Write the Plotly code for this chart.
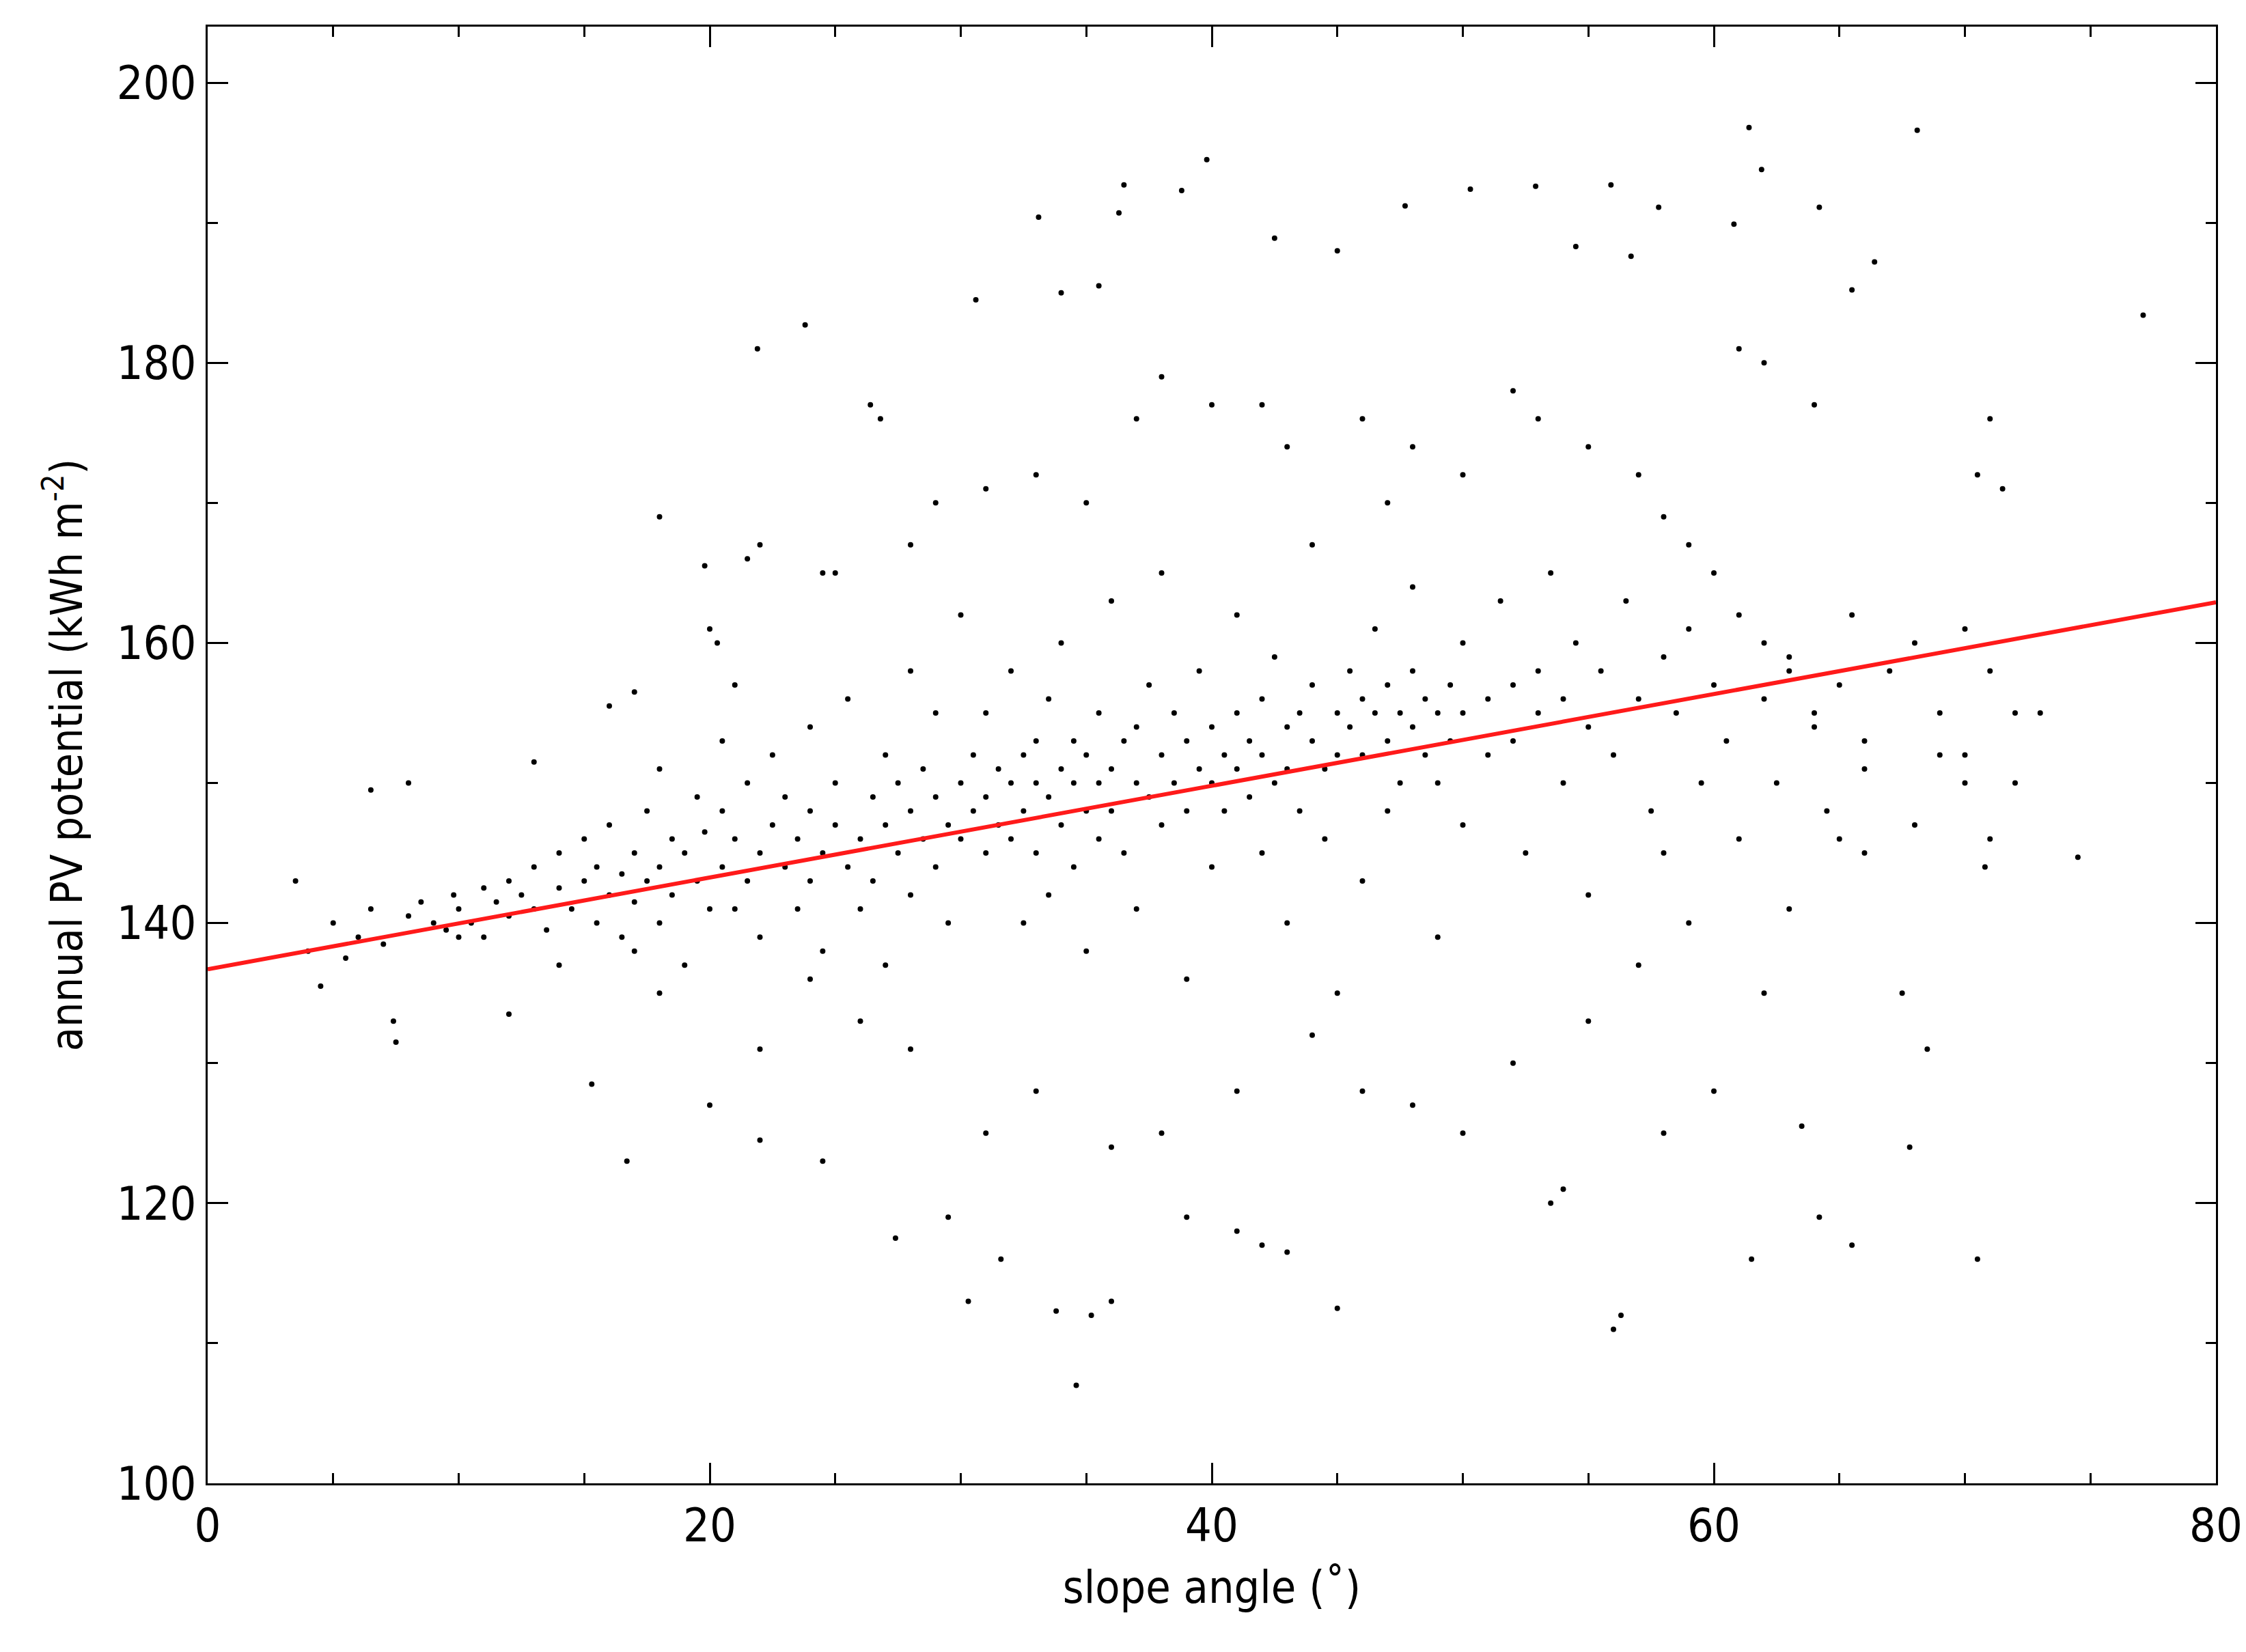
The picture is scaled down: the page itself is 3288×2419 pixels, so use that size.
import plotly.graph_objects as go

# points, grouped by slope band (slope deg, PV kWh m-2)
band_0_20 = [(4,138),(5,140),(5.5,137.5),(6,139),(6.5,141),(7,138.5),(8,140.5),(8.5,141.5),(9,140),(9.5,139.5),
             (9.8,142),(10,141),(10.5,140),(11,142.5),(11,139),(11.5,141.5),(12,143),(12,140.5),(12.5,142),(13,144),
             (13,141),(13.5,139.5),(14,142.5),(14,145),(14.5,141),(15,143),(15,146),(15.5,140),(15.5,144),(16,142),
             (16,147),(16.5,143.5),(16.5,139),(17,145),(17,141.5),(17.5,148),(17.5,143),(18,144),(18,140),(18,151),
             (18.5,146),(18.5,142),(19,145),(19,137),(19.5,149),(19.5,143),(19.8,146.5),(20,141)]
band_20_30 = [(20.5,144),(20.5,148),(21,146),(21,141),(21.5,150),(21.5,143),(22,145),(22,139),(22.5,147),(22.5,152),
              (23,144),(23,149),(23.5,146),(23.5,141),(24,148),(24,143),(24,154),(24.5,145),(24.5,138),(25,147),
              (25,150),(25.5,144),(25.5,156),(26,146),(26,141),(26.5,149),(26.5,143),(27,147),(27,152),(27,137),
              (27.5,145),(27.5,150),(28,148),(28,142),(28,158),(28.5,146),(28.5,151),(29,149),(29,144),(29,155),
              (29.5,147),(29.5,140),(30,150),(30,146),(30,162)]
band_30_45 = [(30.5,148),(30.5,152),(31,149),(31,145),(31,155),(31.5,151),(31.5,147),(32,150),(32,146),(32,158),
              (32.5,152),(32.5,148),(32.5,140),(33,150),(33,153),(33,145),(33.5,149),(33.5,156),(33.5,142),(34,151),
              (34,147),(34,160),(34.5,150),(34.5,153),(34.5,144),(35,148),(35,152),(35,138),(35.5,150),(35.5,155),
              (35.5,146),(36,151),(36,148),(36,163),(36.5,153),(36.5,145),(37,150),(37,154),(37,141),(37.5,149),
              (37.5,157),(38,152),(38,147),(38,165),(38.5,150),(38.5,155),(39,153),(39,148),(39,136),(39.5,151),
              (39.5,158),(40,150),(40,154),(40,144),(40.5,152),(40.5,148),(41,155),(41,151),(41,162),(41.5,149),
              (41.5,153),(42,152),(42,156),(42,145),(42.5,150),(42.5,159),(43,154),(43,151),(43,140),(43.5,155),
              (43.5,148),(44,153),(44,157),(44,167),(44.5,151),(44.5,146),(45,155),(45,152),(45,135)]
band_45_55 = [(45.5,154),(45.5,158),(46,152),(46,156),(46,143),(46.5,155),(46.5,161),(47,153),(47,157),(47,148),
              (47.5,155),(47.5,150),(48,154),(48,158),(48,164),(48.5,152),(48.5,156),(49,155),(49,150),(49,139),
              (49.5,157),(49.5,153),(50,155),(50,160),(50,147),(51,156),(51,152),(51.5,163),(52,157),(52,153),
              (52.5,145),(53,158),(53,155),(53.5,165),(54,156),(54,150),(54.5,160),(55,154),(55,142)]
band_55_80 = [(55.5,158),(56,152),(56.5,163),(57,156),(57.5,148),(58,159),(58,145),(58.5,155),(59,161),(59.5,150),
              (60,157),(60.5,153),(61,162),(61,146),(62,156),(62.5,150),(63,159),(64,154),(64.5,148),(65,157),
              (65.5,162),(66,151),(67,158),(68,147),(69,155),(70,161),(70,152),(71,158),(73,155)]
outliers = [(21.9,181),(23.8,182.7),(39.8,194.5),(36.5,192.7),(38.8,192.3),(33.1,190.4),(36.3,190.7),(68.1,196.6),
            (61.4,196.8),(61.9,193.8),(50.3,192.4),(52.9,192.6),(55.9,192.7),(47.7,191.2),(57.8,191.1),(64.2,191.1),
            (77.1,183.4),(66.4,187.2),(60.8,189.9),(45,188),(42.5,188.9),(54.5,188.3),(56.7,187.6),(65.5,185.2),
            (35.5,185.5),(34,185),(30.6,184.5),(26.4,177),(26.8,176),(24.5,165),(18,169),(20,161),(20.3,160),
            (61,181),(62,180),(64,177),(71,176),(70.5,172),(71.5,171),(72,155),(74.5,144.7),(71,146),(70.8,144),
            (70.5,116),(67.8,124),(67.5,135),(68.5,131),(64.2,119),(65.5,117),(61.5,116),(63.5,125.5),(62,135),
            (56,111),(56.3,112),(53.5,120),(54,121),(34.6,107),(35.2,112),(33.8,112.3),(36,113),(30.3,113),(31.6,116),
            (45,112.5),(42,117),(43,116.5),(41,118),(39,119),(29.5,119),(27.4,117.5),(24.5,123),(22,124.5),(16.7,123),
            (15.3,128.5),(7.5,131.5),(7.4,133),(12,133.5),(4.5,135.5),(3.5,143),(6.5,149.5),(8,150),(13,151.5),
            (16,155.5),(17,156.5),(20.5,153),(21,157),(21.5,166),(19.8,165.5),(22,167),(25,165),(28,167),(29,170),
            (31,171),(33,172),(35,170),(37,176),(38,179),(40,177),(42,177),(43,174),(46,176),(47,170),(48,174),
            (50,172),(52,178),(53,176),(55,174),(57,172),(58,169),(59,167),(60,165),(62,160),(63,158),(64,155),
            (66,153),(68,160),(69,152),(70,150),(72,150),(50,125),(48,127),(46,128),(52,130),(55,133),(58,125),
            (60,128),(57,137),(59,140),(63,141),(65,146),(66,145),(44,132),(41,128),(38,125),(36,124),(33,128),
            (31,125),(28,131),(26,133),(24,136),(22,131),(20,127),(18,135),(17,138),(14,137),(10,139)]

# fitted line end points
fit_x = [0, 80]
fit_y = [136.7, 162.9]

points = band_0_20 + band_20_30 + band_30_45 + band_45_55 + band_55_80 + outliers
slope_angle = [p[0] for p in points]
pv_potential = [p[1] for p in points]

fig = go.Figure()
fig.add_trace(go.Scatter(x=slope_angle, y=pv_potential, mode='markers',
                         marker=dict(color='black', size=8), showlegend=False))
fig.add_trace(go.Scatter(x=fit_x, y=fit_y, mode='lines',
                         line=dict(color='#ff1a1a', width=6), showlegend=False))

font = "DejaVu Sans Condensed"
axis_common = dict(showgrid=False, zeroline=False, showline=True, linecolor='black', linewidth=3,
                   mirror='ticks', ticks='inside', ticklen=30, tickwidth=2.5, tickcolor='black',
                   tickfont=dict(family=font, size=68, color='black'))
fig.update_xaxes(range=[0, 80], dtick=20,
                 title=dict(text='slope angle (˚)', font=dict(family=font, size=66), standoff=30),
                 minor=dict(dtick=5, ticks='inside', ticklen=15, tickwidth=2.5, tickcolor='black'), **axis_common)
fig.update_yaxes(range=[100, 204], dtick=20,
                 title=dict(text='annual PV potential (kWh m<sup>-2</sup>)', font=dict(family=font, size=64), standoff=30),
                 minor=dict(dtick=10, ticks='inside', ticklen=15, tickwidth=2.5, tickcolor='black'), **axis_common)
fig.update_layout(width=3288, height=2419, paper_bgcolor='white', plot_bgcolor='white',
                  margin=dict(l=296, r=52, t=31, b=255), font=dict(family=font, color='black'))

fig.write_html("out.html")
